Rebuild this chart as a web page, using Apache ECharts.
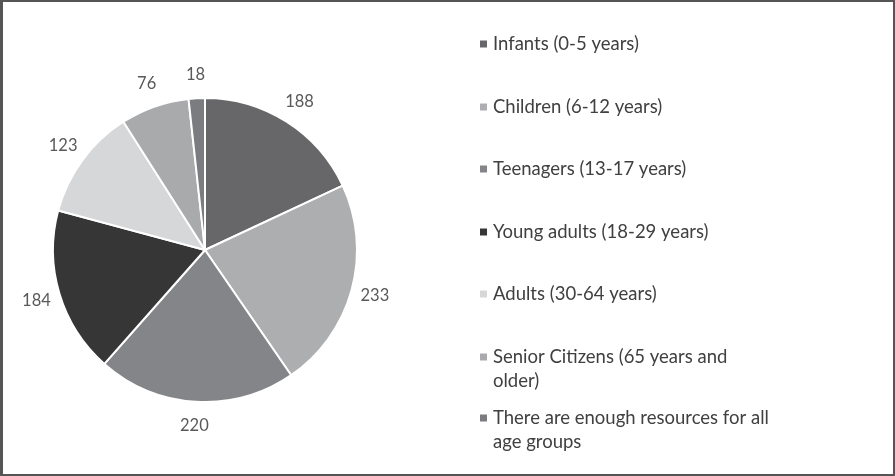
<!DOCTYPE html>
<html>
<head>
<meta charset="utf-8">
<script src="https://cdn.jsdelivr.net/npm/echarts@6/dist/echarts.min.js"></script>
<style>
html,body{margin:0;padding:0;background:#fff;}
#frame{position:absolute;left:0;top:0;width:895px;height:476px;box-sizing:border-box;border:2px solid #555;border-left-width:3px;}
#chart{position:absolute;left:0;top:0;width:895px;height:476px;}
</style>
</head>
<body>
<div id="chart"></div>
<div id="frame"></div>
<script>
const categories = [
  "Infants (0-5 years)",
  "Children (6-12 years)",
  "Teenagers (13-17 years)",
  "Young adults (18-29 years)",
  "Adults (30-64 years)",
  "Senior Citizens (65 years and older)",
  "There are enough resources for all age groups"
];
const legendLines = [
  "Infants (0-5 years)",
  "Children (6-12 years)",
  "Teenagers (13-17 years)",
  "Young adults (18-29 years)",
  "Adults (30-64 years)",
  "Senior Citizens (65 years and\nolder)",
  "There are enough resources for all\nage groups"
];
const values = [188, 233, 220, 184, 123, 76, 18];
const colors = ["#67676a", "#adaeb0", "#848588", "#363636", "#d6d7d9", "#a9aaac", "#7b7c7f"];

const FONT = "Lato";
const legendTops = [32, 95, 157, 220, 282, 345, 406];
const legends = categories.map((name, i) => {
  const twoLine = legendLines[i].indexOf("\n") >= 0;
  return {
    data: [name],
    left: 478,
    top: legendTops[i],
    orient: "vertical",
    padding: 0,
    itemWidth: 9,
    itemHeight: twoLine ? 33 : 9,
    icon: twoLine ? "path://M0,0L9,0L9,9L0,9Z M0,33" : "rect",
    selectedMode: false,
    formatter: (n) => legendLines[categories.indexOf(n)],
    textStyle: {
      fontFamily: FONT,
      fontSize: 18.5,
      color: "#404040",
      lineHeight: 24
    }
  };
});

const LABEL_DIST = 24; // distance of label centre beyond the pie edge
const chart = echarts.init(document.getElementById("chart"), null, {renderer: "canvas"});
chart.setOption({
  animation: false,
  color: colors,
  legend: legends,
  series: [{
    type: "pie",
    center: [205, 250],
    radius: 152,
    startAngle: 90,
    clockwise: true,
    avoidLabelOverlap: false,
    itemStyle: {borderColor: "#ffffff", borderWidth: 2},
    label: {
      show: true,
      position: "outside",
      formatter: "{c}",
      fontFamily: FONT,
      fontSize: 16.5,
      color: "#595959"
    },
    labelLine: {show: true, length: 10, length2: 0, lineStyle: {opacity: 0, width: 0}},
    labelLayout: function (p) {
      const pts = p.labelLinePoints;
      if (!pts || pts.length < 2) return {};
      const dx = pts[1][0] - pts[0][0], dy = pts[1][1] - pts[0][1];
      const len = Math.sqrt(dx * dx + dy * dy) || 1;
      return {
        x: pts[0][0] + dx / len * LABEL_DIST,
        y: pts[0][1] + dy / len * LABEL_DIST,
        align: "center",
        verticalAlign: "middle"
      };
    },
    emphasis: {disabled: true},
    data: categories.map((n, i) => ({name: n, value: values[i]}))
  }]
});
</script>
</body>
</html>
